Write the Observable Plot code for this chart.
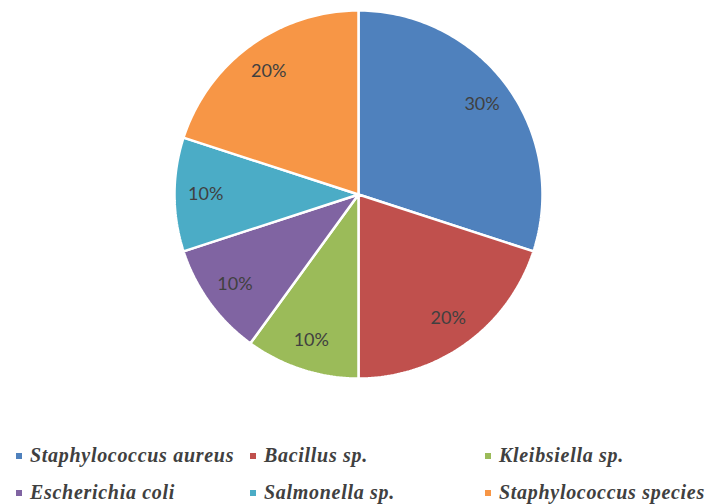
<!DOCTYPE html>
<html><head><meta charset="utf-8">
<script src="https://cdn.jsdelivr.net/npm/d3@7"></script>
<script src="https://cdn.jsdelivr.net/npm/@observablehq/plot@0.6"></script>
<style>
body{margin:0;background:#fff;}
#chart{position:relative;width:707px;height:504px;}
.legend{position:absolute;left:0;top:0;width:707px;}
.item{position:absolute;font-family:"Liberation Serif","Times New Roman",serif;font-weight:bold;font-style:italic;font-size:20px;letter-spacing:0.7px;color:#404040;white-space:nowrap;line-height:20px;}
.sw{display:inline-block;width:6px;height:6px;margin-right:8px;vertical-align:3px;}
</style></head>
<body><div id="chart"></div>
<script>
const categories = ["Staphylococcus aureus","Bacillus sp.","Kleibsiella sp.","Escherichia coli","Salmonella sp.","Staphylococcus species"];
const values = [30,20,10,10,10,20];
const colors = ["#4F81BD","#C0504D","#9BBB59","#8064A2","#4BACC6","#F79646"];
const labels = ["30%","20%","10%","10%","10%","20%"];

const pie = d3.pie().sort(null).value(d => d)(values);
const poly = [];
pie.forEach((p, i) => {
  const n = Math.max(2, Math.ceil((p.endAngle - p.startAngle) / (Math.PI/180)));
  poly.push({cat: categories[i], x: 0, y: 0});
  for (let k = 0; k <= n; k++) {
    const a = p.startAngle + (p.endAngle - p.startAngle) * k / n;
    poly.push({cat: categories[i], x: Math.sin(a), y: Math.cos(a)});
  }
  poly.push({cat: categories[i], x: 0, y: 0});
});
const lab = pie.map((p, i) => {
  const a = (p.startAngle + p.endAngle) / 2;
  return {t: labels[i], x: 0.83 * Math.sin(a), y: 0.83 * Math.cos(a)};
});

const plot = Plot.plot({
  width: 707, height: 430,
  margin: 0,
  x: {domain: [-1, 1], range: [174, 542], axis: null},
  y: {domain: [-1, 1], range: [378, 10], axis: null},
  color: {domain: categories, range: colors},
  marks: [
    Plot.line(poly, {x: "x", y: "y", z: "cat", fill: "cat", stroke: "white", strokeWidth: 2.5, strokeLinejoin: "miter"}),
    Plot.text(lab, {x: "x", y: "y", text: "t", fill: "#404040", fontSize: 18, fontFamily: "Lato, 'Open Sans', sans-serif"})
  ]
});
const chart = document.getElementById("chart");
chart.appendChild(plot);
const leg = document.createElement("div");
leg.className = "legend";
const pos = [[16,445],[250,445],[485,445],[16,482],[250,482],[485,482]];
categories.forEach((c, i) => {
  const d = document.createElement("div");
  d.className = "item";
  d.style.left = pos[i][0] + "px";
  d.style.top = pos[i][1] + "px";
  d.innerHTML = `<span class="sw" style="background:${colors[i]}"></span>${c}`;
  leg.appendChild(d);
});
chart.appendChild(leg);
</script></body></html>
